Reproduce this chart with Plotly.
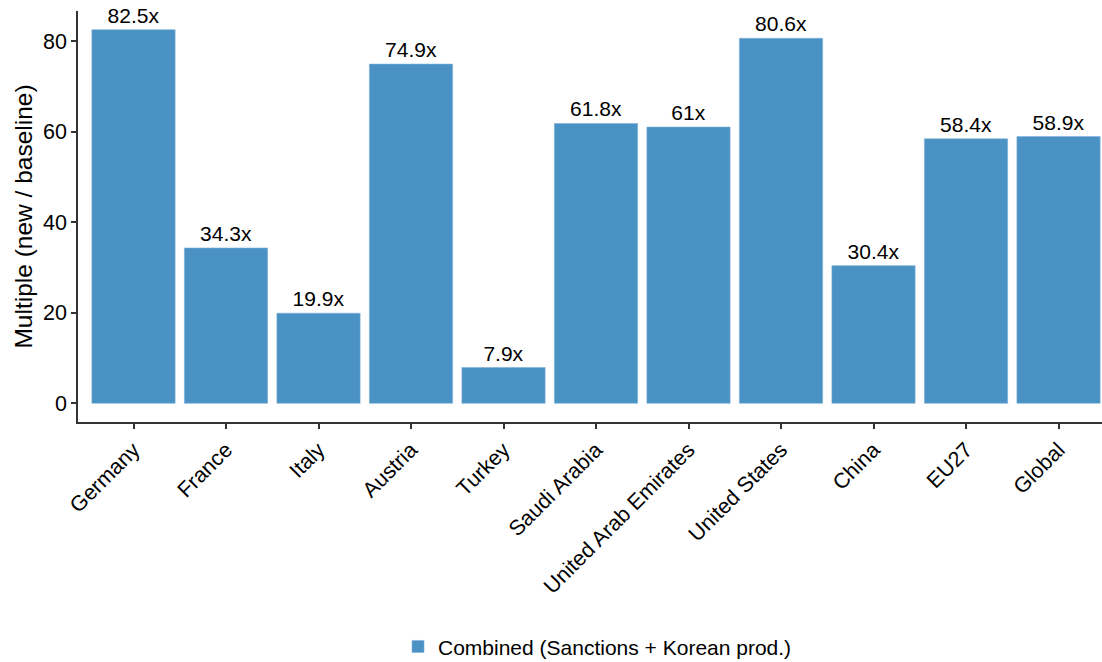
import plotly.graph_objects as go

countries = ["Germany", "France", "Italy", "Austria", "Turkey", "Saudi Arabia",
             "United Arab Emirates", "United States", "China", "EU27", "Global"]
multiples = [82.5, 34.3, 19.9, 74.9, 7.9, 61.8, 61.0, 80.6, 30.4, 58.4, 58.9]
labels = [f"{v:g}x" for v in multiples]
series_name = "Combined (Sanctions + Korean prod.)"
y_ticks = [0, 20, 40, 60, 80]

FONT = "Liberation Sans, Arial, sans-serif"

fig = go.Figure(go.Bar(
    x=countries, y=multiples, name=series_name,
    text=labels, textposition="outside", cliponaxis=False,
    textfont=dict(size=21, color="black", family=FONT),
    marker=dict(color="#4A92C4", line=dict(color="#7DB0D8", width=0.6)),
    showlegend=True,
))

fig.update_layout(
    width=1102, height=662, autosize=False,
    margin=dict(l=78, r=0, t=11, b=240, autoexpand=False),
    plot_bgcolor="white", paper_bgcolor="white",
    font=dict(family=FONT, color="black"),
    bargap=0.1,
    uniformtext=dict(mode=False),
    xaxis=dict(
        range=[-0.6, 10.47], showline=True, linecolor="#333333", linewidth=1.5,
        ticks="outside", ticklen=5, tickwidth=1.5, tickcolor="#333333",
        tickangle=-45, tickfont=dict(size=21.5, color="black"),
        showgrid=False, zeroline=False, automargin=False,
    ),
    yaxis=dict(
        range=[-4.125, 86.625], tickvals=y_ticks, showline=True,
        linecolor="#333333", linewidth=1.5,
        ticks="outside", ticklen=5, tickwidth=1.5, tickcolor="#333333",
        tickfont=dict(size=21.5, color="black"),
        showgrid=False, zeroline=False, automargin=False,
        title=dict(text="Multiple (new / baseline)", font=dict(size=24.5), standoff=3),
    ),
    legend=dict(
        orientation="h", x=0.3125, xanchor="left",
        y=-0.547, yanchor="middle", font=dict(size=21),
    ),
)

fig.write_html("out.html", config={"displayModeBar": False},
               post_script="document.body.style.margin='0';")
